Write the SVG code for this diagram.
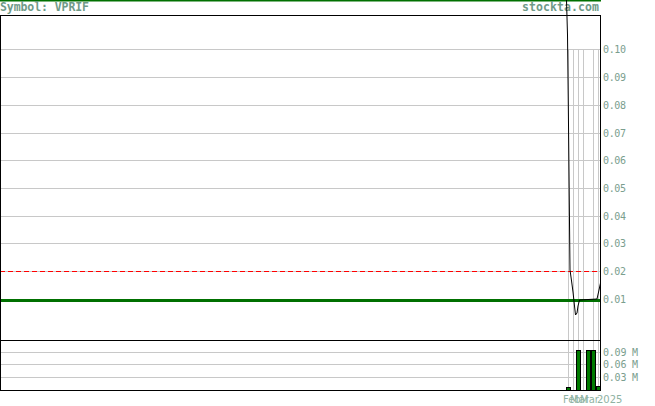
<svg xmlns="http://www.w3.org/2000/svg" width="655" height="406" viewBox="0 0 655 406">
<style>
.grid{stroke:#c8c8c8;stroke-width:1;fill:none;shape-rendering:crispEdges}
.lbl{font-family:"DejaVu Sans Mono","Liberation Mono",monospace;font-size:10px;fill:#7a9e8e}
.ttl{font-family:"DejaVu Sans Mono","Liberation Mono",monospace;font-size:11.5px;font-weight:bold;fill:#6f9a88}
.date{font-family:"DejaVu Sans","Liberation Sans",sans-serif;font-size:10px;fill:#8fb3a3}
.bar{fill:#007a00;stroke:#000;stroke-width:1;shape-rendering:crispEdges}
</style>
<rect x="0" y="0" width="655" height="406" fill="#fff"/>
<g id="header">
<rect x="0" y="0" width="601" height="1.5" fill="#007000"/>
<text class="ttl" x="0" y="11" textLength="89">Symbol: VPRIF</text>
<text class="ttl" x="522" y="11" textLength="77">stockta.com</text>
</g>
<g id="grid">
<path class="grid" d="M0 49.5H600M0 77.5H600M0 105.5H600M0 133.5H600M0 160.5H600M0 188.5H600M0 216.5H600M0 243.5H600M0 271.5H600M0 299.5H600"/>
<path class="grid" d="M568.5 49V340M573.5 49V340M578.5 49V340M583.5 49V340M593.5 49V340M598.5 49V340"/>
<path class="grid" d="M0 352.5H600M0 364.5H600M0 377.5H600"/>
<path class="grid" d="M568.5 341V390M573.5 341V390M578.5 341V390M583.5 341V390M593.5 341V390M598.5 341V390"/>
</g>
<g id="price-axis">
<text class="lbl" x="603" y="53" textLength="23">0.10</text>
<text class="lbl" x="603" y="81" textLength="23">0.09</text>
<text class="lbl" x="603" y="109" textLength="23">0.08</text>
<text class="lbl" x="603" y="137" textLength="23">0.07</text>
<text class="lbl" x="603" y="164" textLength="23">0.06</text>
<text class="lbl" x="603" y="192" textLength="23">0.05</text>
<text class="lbl" x="603" y="220" textLength="23">0.04</text>
<text class="lbl" x="603" y="247" textLength="23">0.03</text>
<text class="lbl" x="603" y="275" textLength="23">0.02</text>
<text class="lbl" x="603" y="303" textLength="23">0.01</text>
</g>
<g id="volume-axis">
<text class="lbl" x="603" y="356" textLength="35">0.09 M</text>
<text class="lbl" x="603" y="368" textLength="35">0.06 M</text>
<text class="lbl" x="603" y="381" textLength="35">0.03 M</text>
</g>
<g id="connectors">
<line x1="0" y1="271.5" x2="600" y2="271.5" stroke="#ff0000" stroke-width="1" stroke-dasharray="5,3" shape-rendering="crispEdges"/>
<line x1="0" y1="300" x2="600" y2="300" stroke="#007000" stroke-width="3" shape-rendering="crispEdges"/>
<polyline fill="none" stroke="#000" stroke-width="1" points="566.5,0 567.5,35 568.3,105 570,270 571.7,282 573,292 574.5,306 575.5,315 577,313 578,306 579.5,300 597,299 599,290 600.5,283"/>
</g>
<g id="volume-bars">
<rect class="bar" x="566.5" y="387.5" width="4" height="3"/>
<rect class="bar" x="576.5" y="350.5" width="4" height="40"/>
<rect class="bar" x="586.5" y="350.5" width="4" height="40"/>
<rect class="bar" x="591.5" y="350.5" width="4" height="40"/>
<rect class="bar" x="596.5" y="386.5" width="4" height="4"/>
</g>
<g id="frames">
<rect x="0.5" y="15.5" width="600" height="325" fill="none" stroke="#000" stroke-width="1" shape-rendering="crispEdges"/>
<rect x="0.5" y="340.5" width="600" height="50" fill="none" stroke="#000" stroke-width="1" shape-rendering="crispEdges"/>
</g>
<g id="date-axis">
<text class="date" x="563" y="403">Feb</text>
<text class="date" x="570" y="403">Mar</text>
<text class="date" x="580" y="403">Mar</text>
<text class="date" x="597" y="403">2025</text>
</g>
</svg>
